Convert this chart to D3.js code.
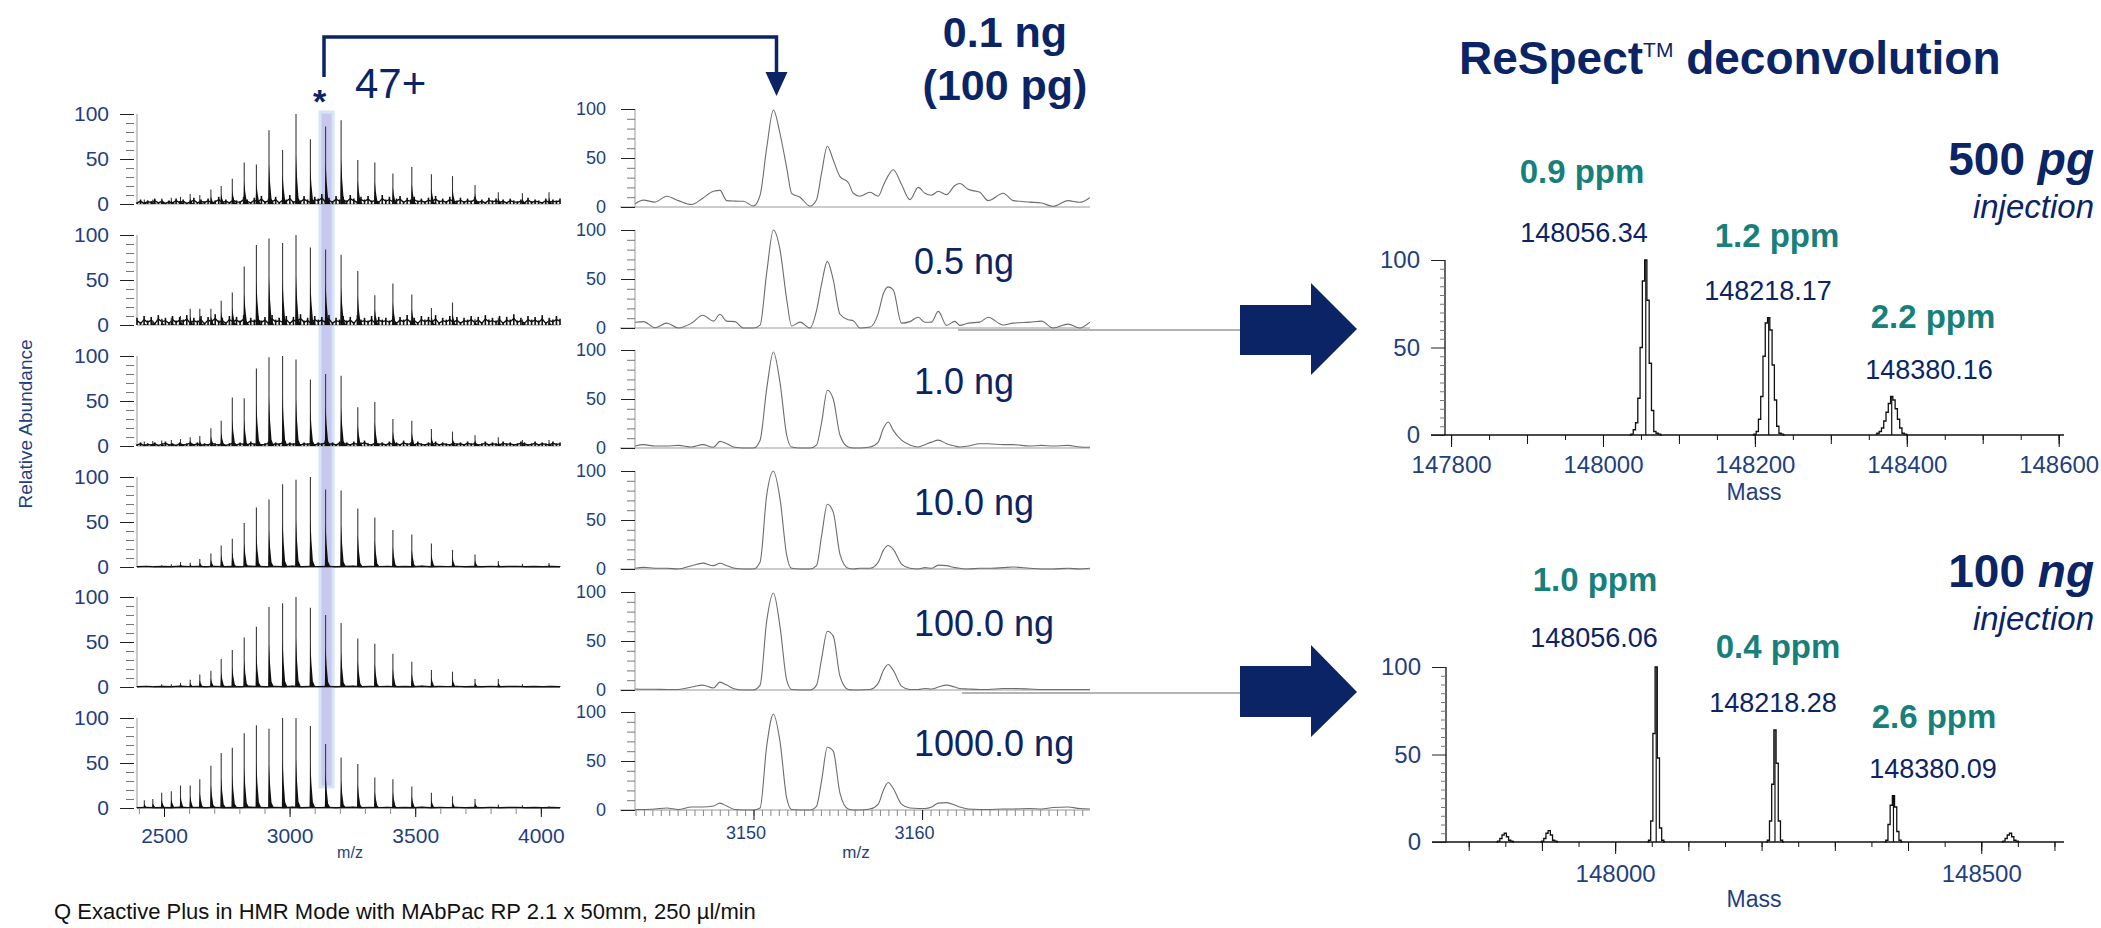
<!DOCTYPE html>
<html>
<head>
<meta charset="utf-8">
<script src="https://cdn.jsdelivr.net/npm/d3@7"></script>
<style>
  body { margin: 0; background: #fff; }
  text { font-family: 'Liberation Sans', Arial, Helvetica, sans-serif; }
</style>
</head>
<body>
<div id="chart"></div>
<script>
// ---------- data ----------
const amounts = ['0.1 ng', '0.5 ng', '1.0 ng', '10.0 ng', '100.0 ng', '1000.0 ng'];

// charge state envelope (full scan), apparent m/z of each charge state peak
const chargeMz = [2421.6, 2455.4, 2490.8, 2529.1, 2565.7, 2604.3, 2642.5, 2686.7, 2727.7, 2771.9,
  2819.3, 2867.8, 2918.0, 2972.1, 3025.5, 3082.8, 3143.3, 3205.0, 3271.5, 3339.2,
  3411.2, 3486.5, 3564.5, 3648.5, 3738.1, 3830.8, 3926.8, 4032.6];
const env01 = [5, 5, 6, 7, 8, 11, 10, 16, 20, 28, 46, 44, 82, 60, 100, 72, 86, 93, 49, 46, 34, 41, 33, 31, 21, 13, 12, 13];
const env05 = [4, 5, 7, 8, 10, 18, 18, 18, 27, 36, 65, 89, 96, 91, 100, 86, 84, 78, 60, 33, 46, 34, 19, 25, 7, 8, 6, 7];
const env1 = [5, 5.6, 6, 6.7, 7.8, 9.6, 11, 19.6, 28, 54, 53, 86, 98.5, 100, 96, 74, 80, 78, 43, 49, 30, 28, 19, 16, 12, 9.6, 6.7, 6.7];
const env10 = [1, 1, 2, 3, 5.6, 4.8, 9, 15, 24, 31.5, 49, 66, 75, 92, 97, 100, 86, 85, 65, 55, 41, 36, 26, 19, 14, 6.7, 3.7, 4.4];
const env100 = [1, 1, 3, 3, 4.5, 8, 14, 18, 31, 41, 55, 67, 89, 93, 100, 88, 80, 71, 54, 48, 37, 28, 19, 17, 9, 9, 3, 1.5];
const env1000 = [8.5, 10, 17, 18.5, 25, 25, 32, 47, 61, 67, 83, 92, 88, 100, 100, 91, 71, 56, 49, 34, 32, 24, 17, 13, 10, 4, 3, 2];

// baseline noise (% relative abundance)
const noise01 = [2,5,1,4,3,6,2,5,1,4,2,6,3,5,1,4,7,2,5,3,6,2,4,8,3,5,2,7,4,3,8,5,2,7,4,9,3,6,4,8,2,7,5,10,3,6,4,9,5,3,8,6,11,4,7,3,9,5,8,4,10,6,3,8,5,9,4,7,3,10,5,8,4,6,9,3,7,5,8,4,6,3,7,5,9,4,6,3,8,5,4,7,3,6,4,8,3,5,2,7,4,6,3,5,2,6,4,3,5,2,7,3,5,4,2,6,3,5,4,6];
const noise05 = [8,3,10,5,9,2,11,6,8,3,10,5,9,6,11,3,8,5,10,2,9,6,12,5,8,3,10,6,9,5,11,3,8,6,10,5,9,3,11,6,8,5,10,3,9,6,12,5,8,3,10,6,9,5,11,3,8,6,10,5,9,3,11,6,8,5,10,3,9,6,8,5,10,3,9,6,11,5,8,3,10,6,9,5,11,3,8,6,10,5,9,3,8,6,10,5,9,3,11,6,8,5,10,3,9,6,12,5,8,3,10,6,9,5,11,3,8,6,10,7];
const noise1 = [2,4,1,3,2,4,1,3,5,2,3,1,4,2,3,5,2,4,1,3,2,5,3,2,4,1,3,5,2,4,3,2,5,3,4,2,3,5,2,4,3,6,2,4,3,5,2,4,3,5,2,4,3,6,3,4,2,5,3,4,2,5,3,4,6,3,2,5,3,4,2,5,3,4,2,6,3,4,2,5,3,2,4,3,5,2,4,3,2,5,3,4,2,5,3,4,2,3,5,2,4,3,2,5,3,4,2,3,5,4,2,3,5,2,4,3,2,5,3,4];
const noiseLow = [0.6,1.2,0.4,1,0.5,1.4,0.7,1,0.4,1.2,0.6,1,0.5,1.3,0.8,0.4,1.1,0.6,1.4,0.5,1,0.7,1.2,0.4,0.9,1.3,0.5,1,0.7,1.2,0.4,1,0.6,1.3,0.5,0.9,0.7,1.2,0.4,1,0.6,1.1,0.5,0.8,1.2,0.4,1,0.6,0.9,0.5];

const bandMz = 3147;   // highlighted 47+ charge state

// zoom on 47+ charge state
const zoomMz = [3142.98, 3143.47, 3144.16, 3144.85, 3145.54, 3146.33, 3146.99, 3147.62, 3148.01, 3148.41,
  3148.90, 3149.40, 3149.99, 3150.39, 3150.78, 3151.18, 3151.57, 3151.97, 3152.26, 3152.76,
  3153.35, 3153.74, 3154.04, 3154.38, 3154.73, 3155.13, 3155.62, 3155.92, 3156.31, 3156.91,
  3157.40, 3157.70, 3157.99, 3158.29, 3158.78, 3159.28, 3159.77, 3160.17, 3160.56, 3160.96,
  3161.45, 3161.94, 3162.24, 3162.73, 3163.43, 3163.92, 3164.81, 3165.40, 3166.39, 3167.08,
  3167.77, 3168.66, 3169.35, 3169.95];
const zoom01 = [3.4,7,5,11,6.5,2.5,9,16,17,6.5,6,5.8,1,12,60,99,75,40,14,10,1,7.5,35,62,48,31,25,14,11,15,11,22,32,38,23,7.5,20,14,12,16,12.6,22,24,18,15,6.5,14,6.5,5,4,0.7,6.5,4.8,9.5];
const zoom05 = [5.8,6.5,0.3,5,0,5,13,7,14,7,6.5,0,0,3,56,100,80,29,2,6,0,18,45,68,49,14,8.5,7.5,0,1,15,35,42,39,5,6.5,11,5.8,6,17,2.7,6.8,2.7,5,6,11,3,5,6,7,0,4,0,6];
const zoom1 = [2,3.4,2,2,2.7,1,3.4,0.7,6.8,4.4,0.7,0,0,8,60,98,67,13,1,0,0,3,26,59,50,13,1,0,0,1,6,20,26.5,18,8,3,1,3.4,6,8,4.4,2,1,2,4.4,4.4,3.4,3.4,2,2.7,2,2.7,1,0.7];
const zoom10 = [0.7,1.7,0.7,0.7,0,3.4,6,3.4,5.8,3.4,0.7,0,0,7,75,100,72,14,0.7,0,0,3.4,34,66,58,15,0.7,0,0.7,0.7,7,19,24,20,5,0.7,0,1.4,0.7,4,3.4,1.4,0.7,0,0.7,0.7,1.4,2,0.7,0,0,0.7,0,0.7];
const zoom100 = [1,0.7,0.7,0.5,0.5,3,5,2,8,5,1,0,0,5,70,99,65,10,0.5,0,0,5,32,60,55,14,0.5,0,0,0.5,7,20,26,20,4,0.5,0.5,1.5,1,3,5,3,1.5,1,0.5,0.5,1.5,1.5,1,0.5,0.5,0.5,0.5,0.5];
const zoom1000 = [0.5,0.5,1,2,0.5,3,3,4,7,4,0.5,0,0,2,65,98,70,12,0.5,0,0,4,30,64,60,17,1,0,0,1,6,20,28,22,6,2,1.5,1.5,3,7,7.5,5,3,1,0.5,0.5,1,1,1.5,1,2.5,3,1.5,1];

// ReSpect deconvolution, 500 pg injection
const mass500 = [148056.34, 148218.17, 148380.16];
const ppm500 = ['0.9 ppm', '1.2 ppm', '2.2 ppm'];
const offs500 = [-21, -18, -15, -12, -9, -6, -3, 0, 3, 6, 9, 12, 15, 18, 21];
const prof500a = [0, 0.5, 3, 7, 21, 50, 88, 100, 77, 41, 14, 2, 1, 0.5, 0];
const prof500b = [0, 0.5, 2, 9, 22, 45, 64, 67, 60, 40, 20, 5, 1, 0.5, 0];
const prof500c = [0.5, 1, 2, 4, 8, 13, 18, 22, 20, 15, 9, 4, 1, 0.5, 0];

// ReSpect deconvolution, 100 ng injection
const mass100 = [148056.06, 148218.28, 148380.09];
const ppm100 = ['1.0 ppm', '0.4 ppm', '2.6 ppm'];
const minor100 = [147850, 147910, 148540];
const offs100 = [-12, -9, -6, -3, 0, 3, 6, 9, 12];
const prof100a = [0, 1, 12, 62, 100, 48, 8, 1, 0];
const prof100b = [0, 1, 12, 33, 64, 45, 12, 1, 0];
const prof100c = [0, 1, 10, 21, 26.5, 20, 6, 1, 0];
const prof100m1 = [0, 0.5, 2, 4, 5, 3, 1, 0.5, 0];
const prof100m2 = [0, 0.5, 2, 5, 6.5, 4, 1, 0.5, 0];
const prof100m3 = [0, 0.5, 2, 4, 5, 3, 1, 0.5, 0];

// ---------- drawing ----------
let w = 2101, h = 928;
const navy = '#0b2466', axisBlue = '#1f3f80', teal = '#17807b';
const font = "'Liberation Sans', Arial, Helvetica, sans-serif";

let svg = d3.select('#chart').append('svg')
  .attr('width', w).attr('height', h)
  .style('background', '#fff');

function styleText(sel, size, color) {
  sel.attr('font-size', size).attr('font-family', font).attr('fill', color);
}

function addYAxis(parent, y, x, big, small, pad, size, step) {
  parent.append('g').attr('transform', 'translate(' + x + ',0)')
    .call(d3.axisLeft(y).tickValues(d3.range(0, 101, step).filter(v => v % 50)).tickSize(small).tickFormat(''))
    .call(a => a.select('.domain').remove())
    .call(a => a.selectAll('line').attr('stroke', '#777'));
  parent.append('g').attr('transform', 'translate(' + x + ',0)')
    .call(d3.axisLeft(y).tickValues([0, 50, 100]).tickSize(big).tickPadding(pad))
    .call(a => a.select('.domain').remove())
    .call(a => a.selectAll('line').attr('stroke', '#222'))
    .call(a => styleText(a.selectAll('text'), size, axisBlue));
}

// highlight band on 47+
let xL = d3.scaleLinear().domain([2392.5, 4076.4]).range([137, 560]);
svg.append('rect')
  .attr('x', xL(bandMz) - 6.5).attr('width', 13)
  .attr('y', 112).attr('height', 675)
  .attr('fill', '#c8c8ee').attr('stroke', '#d3e6f8').attr('stroke-width', 3);

// left: full scans
const leftEnvs = [env01, env05, env1, env10, env100, env1000];
const leftNoise = [noise01, noise05, noise1, noiseLow, noiseLow, noiseLow];
const leftBase = [204, 325, 446, 567, 687, 808];

function tail(cx, y0, yt) {
  let hh = y0 - yt;
  return 'M' + (cx - 0.8) + ',' + y0 + 'L' + cx + ',' + (y0 - hh * 0.55) + 'L' + (cx + 1) + ',' + (y0 - hh * 0.3) +
    'L' + (cx + 2.5) + ',' + (y0 - hh * 0.07) + 'L' + (cx + 5) + ',' + y0 + 'Z';
}

leftEnvs.forEach((env, r) => {
  let base = leftBase[r];
  let y = d3.scaleLinear().domain([0, 100]).range([base, base - 90]);
  let g = svg.append('g');
  g.append('line').attr('x1', 137).attr('x2', 137).attr('y1', base).attr('y2', base - 90).attr('stroke', '#999');
  g.append('line').attr('x1', 137).attr('x2', 560).attr('y1', base).attr('y2', base).attr('stroke', '#999');

  let nz = leftNoise[r];
  let pos = d3.scaleLinear().domain([0, nz.length - 1]).range(xL.domain());
  g.selectAll('line.nz').data(nz).enter().append('line')
    .attr('class', 'nz')
    .attr('x1', (d, i) => xL(pos(i))).attr('x2', (d, i) => xL(pos(i)))
    .attr('y1', base).attr('y2', d => y(d))
    .attr('stroke', '#111').attr('stroke-width', 1.6);
  g.append('path')
    .attr('d', d3.line().x((d, i) => xL(pos(i))).y(d => y(d * 0.6))(nz))
    .attr('fill', 'none').attr('stroke', '#111').attr('stroke-width', 1.4);

  g.selectAll('line.pk').data(env).enter().append('line')
    .attr('class', 'pk')
    .attr('x1', (v, i) => xL(chargeMz[i])).attr('x2', (v, i) => xL(chargeMz[i]))
    .attr('y1', base).attr('y2', v => y(v))
    .attr('stroke', '#3a3a3a').attr('stroke-width', 1.1);
  g.selectAll('path.tl').data(env).enter().append('path')
    .attr('class', 'tl')
    .attr('d', (v, i) => tail(xL(chargeMz[i]), base, y(v)))
    .attr('fill', '#111');

  addYAxis(g, y, 134, 14, 8, 11, 21, 10);
});

svg.append('g').attr('transform', 'translate(0,808)')
  .call(d3.axisBottom(xL).tickValues(d3.range(2400, 4100, 100)).tickSize(6).tickFormat(''))
  .call(a => a.select('.domain').remove())
  .call(a => a.selectAll('line').attr('stroke', '#888'));
svg.append('g').attr('transform', 'translate(0,808)')
  .call(d3.axisBottom(xL).tickValues([2500, 3000, 3500, 4000]).tickSize(9).tickPadding(11).tickFormat(d3.format('d')))
  .call(a => a.select('.domain').remove())
  .call(a => a.selectAll('line').attr('stroke', '#111'))
  .call(a => styleText(a.selectAll('text'), 21, axisBlue));
svg.append('text').text('m/z').attr('x', 350).attr('y', 858).attr('text-anchor', 'middle')
  .call(s => styleText(s, 16, axisBlue));

svg.append('text').text('Relative Abundance')
  .attr('transform', 'translate(32,424) rotate(-90)').attr('text-anchor', 'middle')
  .call(s => styleText(s, 19, axisBlue));

// middle: zoom on 47+
let xM = d3.scaleLinear().domain([3142.97, 3169.96]).range([635, 1090]);
const midRows = [zoom01, zoom05, zoom1, zoom10, zoom100, zoom1000];
const midBase = [207, 328, 448, 569, 690, 810];

midRows.forEach((vals, r) => {
  let base = midBase[r];
  let y = d3.scaleLinear().domain([0, 100]).range([base, base - 98]);
  let g = svg.append('g');
  g.append('line').attr('x1', 635).attr('x2', 635).attr('y1', base).attr('y2', base - 98).attr('stroke', '#999');
  g.append('line').attr('x1', 620).attr('x2', 1090).attr('y1', base).attr('y2', base).attr('stroke', '#999');
  g.append('path')
    .attr('d', d3.line().x((d, i) => xM(zoomMz[i])).y(d => y(d)).curve(d3.curveMonotoneX)(vals))
    .attr('fill', 'none').attr('stroke', '#6d6d6d').attr('stroke-width', 1.1);
  addYAxis(g, y, 635, 14, 8, 15, 18, 10);
  if (r > 0) {
    g.append('text').text(amounts[r]).attr('x', 914).attr('y', base - 54)
      .call(s => styleText(s, 36, navy));
  }
});

svg.append('g').attr('transform', 'translate(0,810)')
  .call(d3.axisBottom(xM).tickValues(d3.range(3143, 3170, 0.5)).tickSize(6).tickFormat(''))
  .call(a => a.select('.domain').remove())
  .call(a => a.selectAll('line').attr('stroke', '#888'));
svg.append('g').attr('transform', 'translate(0,810)')
  .call(d3.axisBottom(xM).tickValues([3150, 3160]).tickSize(10).tickPadding(6).tickFormat(d3.format('d')))
  .call(a => a.select('.domain').remove())
  .call(a => a.selectAll('line').attr('stroke', '#111'))
  .call(a => styleText(a.selectAll('text').attr('dx', -8), 18, axisBlue));
svg.append('text').text('m/z').attr('x', 856).attr('y', 858).attr('text-anchor', 'middle')
  .call(s => styleText(s, 17, axisBlue));

// top annotations
svg.append('path')
  .attr('d', 'M324,77V37H776.5V74')
  .attr('fill', 'none').attr('stroke', navy).attr('stroke-width', 3.5);
svg.append('path').attr('d', 'M765.5,72L787.5,72L776.5,96Z').attr('fill', navy);
svg.append('text').text('*').attr('x', 319.5).attr('y', 113).attr('text-anchor', 'middle')
  .attr('font-weight', 'bold').call(s => styleText(s, 34, navy));
svg.append('text').text('47+').attr('x', 355).attr('y', 98).call(s => styleText(s, 42, navy));
svg.append('text').text(amounts[0]).attr('x', 1005).attr('y', 47).attr('text-anchor', 'middle')
  .attr('font-weight', 'bold').call(s => styleText(s, 43, navy));
svg.append('text').text('(100 pg)').attr('x', 1005).attr('y', 100).attr('text-anchor', 'middle')
  .attr('font-weight', 'bold').call(s => styleText(s, 43, navy));

// connectors and block arrows
[[330, 958], [693, 962]].forEach(c => {
  svg.append('line').attr('x1', c[1]).attr('x2', 1240).attr('y1', c[0]).attr('y2', c[0])
    .attr('stroke', '#9a9a9a').attr('stroke-width', 1.5);
});
[[305, 355, 283, 375, 329], [666, 717, 645, 737, 692]].forEach(a => {
  svg.append('path')
    .attr('d', 'M1240,' + a[0] + 'H1311V' + a[2] + 'L1357,' + a[4] + 'L1311,' + a[3] + 'V' + a[1] + 'H1240Z')
    .attr('fill', navy);
});

// title
let title = svg.append('text').attr('x', 1459).attr('y', 74).attr('font-weight', 'bold')
  .call(s => styleText(s, 46, navy));
title.append('tspan').text('ReSpect');
title.append('tspan').text('TM').attr('font-size', 21).attr('font-weight', 'normal').attr('dy', -17);
title.append('tspan').text(' deconvolution').attr('dy', 17);

// right: deconvoluted spectra
function drawDecon(cfg) {
  let x = d3.scaleLinear().domain(cfg.domain).range([cfg.left, 2064]);
  let y = d3.scaleLinear().domain([0, 100]).range([cfg.base, cfg.base - 175]);
  let g = svg.append('g');
  let line = d3.line().x(d => x(d[0])).y(d => y(d[1])).curve(d3.curveStep);

  cfg.peaks.forEach(p => {
    let pts = cfg.offs.map((o, i) => [p.mass + o, p.prof[i]]);
    g.append('path').attr('d', line(pts))
      .attr('fill', 'none').attr('stroke', '#111').attr('stroke-width', 1.3);
    if (p.stick) {
      g.append('line').attr('x1', x(p.mass)).attr('x2', x(p.mass))
        .attr('y1', y(0)).attr('y2', y(d3.max(p.prof)))
        .attr('stroke', '#111').attr('stroke-width', 1.2);
    }
  });

  g.append('line').attr('x1', cfg.left - 14).attr('x2', 2064).attr('y1', cfg.base).attr('y2', cfg.base)
    .attr('stroke', '#111').attr('stroke-width', 1.3);
  g.append('line').attr('x1', cfg.left).attr('x2', cfg.left).attr('y1', cfg.base).attr('y2', cfg.base - 175)
    .attr('stroke', '#111').attr('stroke-width', 1.3);
  addYAxis(g, y, cfg.left, 14, 5, 11, 24, 5);

  let lo = Math.ceil(cfg.domain[0] / 50) * 50;
  g.append('g').attr('transform', 'translate(0,' + cfg.base + ')')
    .call(d3.axisBottom(x).tickValues(d3.range(lo, cfg.domain[1], 50)).tickSize(5).tickFormat(''))
    .call(a => a.select('.domain').remove())
    .call(a => a.selectAll('line').attr('stroke', '#111'));
  g.append('g').attr('transform', 'translate(0,' + cfg.base + ')')
    .call(d3.axisBottom(x).tickValues(d3.range(lo + (lo % 100 ? 50 : 0), cfg.domain[1], 100)).tickSize(9).tickFormat(''))
    .call(a => a.select('.domain').remove())
    .call(a => a.selectAll('line').attr('stroke', '#111'));
  g.append('g').attr('transform', 'translate(0,' + cfg.base + ')')
    .call(d3.axisBottom(x).tickValues(cfg.labels).tickSize(12).tickPadding(cfg.pad).tickFormat(d3.format('d')))
    .call(a => a.select('.domain').remove())
    .call(a => a.selectAll('line').attr('stroke', '#111'))
    .call(a => styleText(a.selectAll('text'), 24, axisBlue));
  g.append('text').text('Mass').attr('x', 1754).attr('y', cfg.base + 65).attr('text-anchor', 'middle')
    .call(s => styleText(s, 23, axisBlue));

  cfg.ppmPos.forEach((p, i) => {
    g.append('text').text(cfg.ppm[i]).attr('x', p[0]).attr('y', p[1]).attr('text-anchor', 'middle')
      .attr('font-weight', 'bold').call(s => styleText(s, 33, teal));
  });
  cfg.massPos.forEach((p, i) => {
    g.append('text').text(d3.format('.2f')(cfg.masses[i])).attr('x', p[0]).attr('y', p[1]).attr('text-anchor', 'middle')
      .call(s => styleText(s, 27, navy));
  });

  let amt = g.append('text').attr('x', 2094).attr('y', cfg.amtY).attr('text-anchor', 'end')
    .attr('font-weight', 'bold').call(s => styleText(s, 46, navy));
  amt.append('tspan').text(cfg.amount[0] + ' ');
  amt.append('tspan').text(cfg.amount[1]).attr('font-style', 'italic');
  g.append('text').text('injection').attr('x', 2094).attr('y', cfg.amtY + 43).attr('text-anchor', 'end')
    .attr('font-style', 'italic').call(s => styleText(s, 33, navy));
}

drawDecon({
  domain: [147792, 148607], left: 1445, base: 435, pad: 9,
  labels: [147800, 148000, 148200, 148400, 148600],
  offs: offs500,
  peaks: [
    { mass: mass500[0], prof: prof500a, stick: true },
    { mass: mass500[1], prof: prof500b, stick: true },
    { mass: mass500[2], prof: prof500c, stick: true }
  ],
  masses: mass500, ppm: ppm500,
  ppmPos: [[1582, 183], [1777, 247], [1933, 328]],
  massPos: [[1584, 242], [1768, 300], [1929, 379]],
  amount: ['500', 'pg'], amtY: 175
});

drawDecon({
  domain: [147769, 148613], left: 1446, base: 842, pad: 11,
  labels: [148000, 148500],
  offs: offs100,
  peaks: [
    { mass: minor100[0], prof: prof100m1 },
    { mass: minor100[1], prof: prof100m2 },
    { mass: mass100[0], prof: prof100a, stick: true },
    { mass: mass100[1], prof: prof100b, stick: true },
    { mass: mass100[2], prof: prof100c, stick: true },
    { mass: minor100[2], prof: prof100m3 }
  ],
  masses: mass100, ppm: ppm100,
  ppmPos: [[1595, 591], [1778, 658], [1934, 728]],
  massPos: [[1594, 647], [1773, 712], [1933, 778]],
  amount: ['100', 'ng'], amtY: 587
});

// caption
svg.append('text').text('Q Exactive Plus in HMR Mode with MAbPac RP 2.1 x 50mm, 250 \u00b5l/min')
  .attr('x', 54).attr('y', 919).call(s => styleText(s, 22, '#111'));
</script>
</body>
</html>
